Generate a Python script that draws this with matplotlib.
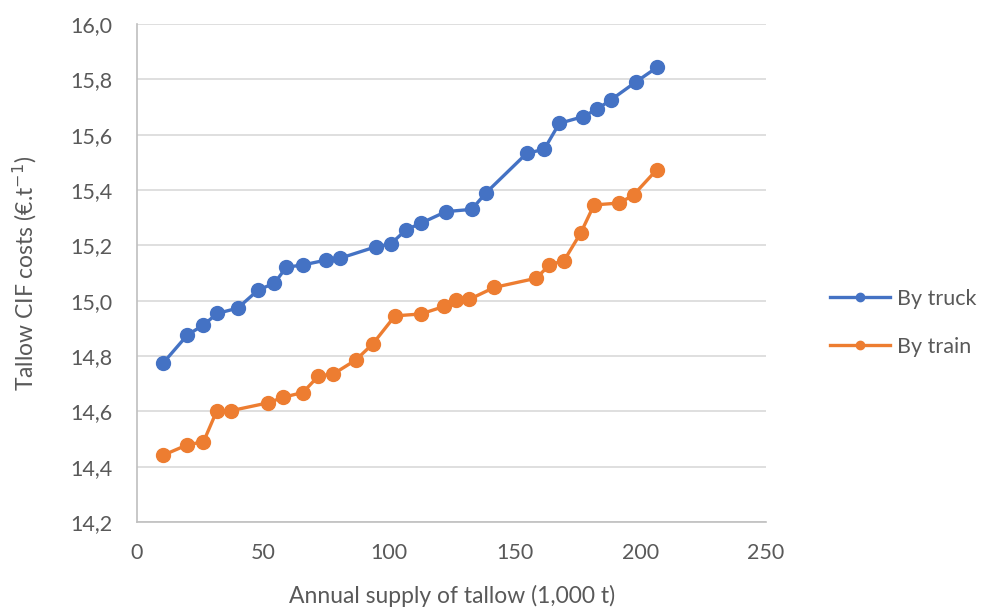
import matplotlib.pyplot as plt
from matplotlib.lines import Line2D
from matplotlib.ticker import FuncFormatter, MultipleLocator

# annual tallow supply (1,000 t) and CIF cost (EUR/t) per transport mode
truck_supply = [10.5, 20.0, 26.4, 31.9, 40.0, 48.2, 54.6, 59.3, 65.9, 75.2,
                80.5, 95.0, 100.8, 106.9, 112.8, 122.8, 133.0, 138.7, 154.9,
                161.8, 167.8, 177.2, 182.7, 188.2, 198.3, 206.6]
truck_cost = [14.776, 14.876, 14.912, 14.954, 14.973, 15.039, 15.063, 15.121,
              15.129, 15.147, 15.153, 15.195, 15.205, 15.256, 15.280, 15.322,
              15.330, 15.390, 15.533, 15.547, 15.641, 15.665, 15.692, 15.725,
              15.791, 15.843]

train_supply = [10.5, 20.0, 26.4, 31.7, 37.2, 52.2, 58.1, 65.9, 72.1, 78.0,
                87.0, 93.7, 102.5, 112.8, 122.0, 126.6, 132.1, 142.0, 158.6,
                163.9, 169.7, 176.4, 181.6, 191.7, 197.3, 206.6]
train_cost = [14.442, 14.479, 14.490, 14.602, 14.602, 14.631, 14.651, 14.668,
              14.728, 14.735, 14.786, 14.844, 14.945, 14.952, 14.979, 15.004,
              15.005, 15.048, 15.081, 15.129, 15.145, 15.246, 15.346, 15.353,
              15.382, 15.474]

series_names = ["By truck", "By train"]
series_colors = ["#4472C4", "#ED7D31"]

plt.rcParams['font.family'] = ['Lato', 'DejaVu Sans']
text_color = '#595959'
tick_fs = 15.5
label_fs = 16.5
legend_fs = 15.5

fig = plt.figure(figsize=(9.86, 6.16), dpi=100)
ax = fig.add_axes([0.139, 0.1526, 0.638, 0.8084])

ax.plot(truck_supply, truck_cost, color=series_colors[0], linewidth=2.4,
        marker='o', markersize=10, zorder=3)
ax.plot(train_supply, train_cost, color=series_colors[1], linewidth=2.4,
        marker='o', markersize=10, zorder=3)

ax.set_xlim(0, 250)
ax.set_ylim(14.2, 16.0)
ax.xaxis.set_major_locator(MultipleLocator(50))
ax.yaxis.set_major_locator(MultipleLocator(0.2))
ax.yaxis.set_major_formatter(FuncFormatter(lambda v, _: f"{v:.1f}".replace('.', ',')))

ax.grid(axis='y', color='#d9d9d9', linewidth=1.2)
ax.set_axisbelow(True)
for side in ['top', 'right']:
    ax.spines[side].set_visible(False)
for side in ['left', 'bottom']:
    ax.spines[side].set_color('#bfbfbf')
    ax.spines[side].set_linewidth(1.2)
ax.tick_params(axis='both', length=0, labelsize=tick_fs, labelcolor=text_color)
ax.tick_params(axis='x', pad=15)
ax.tick_params(axis='y', pad=18)

ax.set_xlabel("Annual supply of tallow (1,000 t)", fontsize=label_fs, color=text_color, labelpad=16)
ax.set_ylabel("Tallow CIF costs (€.t$^{-1}$)", fontsize=label_fs, color=text_color, labelpad=22)

handles = [Line2D([0], [0], color=c, linewidth=2.4, marker='o', markersize=6)
           for c in series_colors]
fig.legend(handles, series_names, loc='center left', bbox_to_anchor=(0.842, 0.476),
           frameon=False, borderpad=0, borderaxespad=0, fontsize=legend_fs,
           labelcolor=text_color, handlelength=2.8, handletextpad=0.3,
           labelspacing=1.3)

fig.savefig("out.png", dpi=100, facecolor='white')
